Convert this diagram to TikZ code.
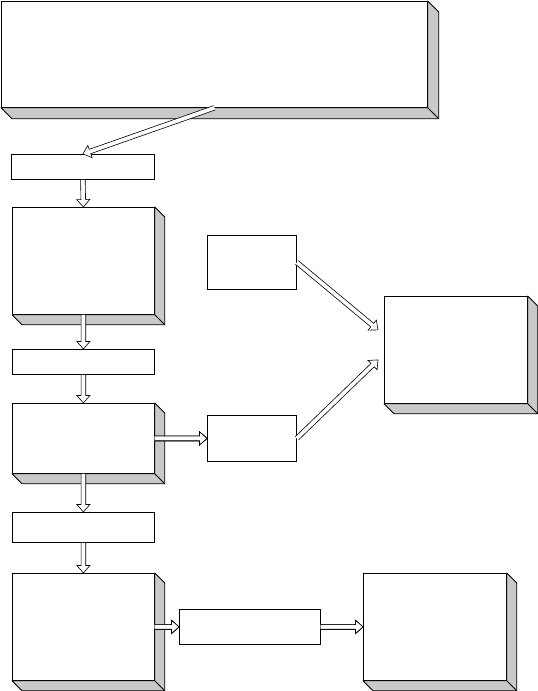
\documentclass[tikz,border=0pt]{standalone}
\usetikzlibrary{calc,positioning}
\tikzset{
  stage/.style={
    draw,
    fill=white,
    line width=0.8pt,
    inner sep=0pt,
    anchor=north west
  },
  side/.style={
    draw,
    fill=gray!42,
    line width=0.8pt,
    line join=round
  },
  flowline/.style={
    draw,
    fill=white,
    line width=0.6pt,
    line join=miter
  },
}
% hollow block arrow from #1 to #2
\newcommand\flowarrow[2]{%
  \coordinate (fb) at ($(#2)!7.5pt!(#1)$);
  \draw[flowline] ($(#1)!2.3pt!90:(#2)$) -- ($(fb)!2.3pt!90:(#2)$) -- ($(fb)!6.5pt!90:(#2)$)
    -- (#2) -- ($(fb)!6.5pt!-90:(#2)$) -- ($(fb)!2.3pt!-90:(#2)$) -- ($(#1)!2.3pt!-90:(#2)$);
}

\begin{document}
\begin{tikzpicture}[x=1pt,y=-1pt]
  \useasboundingbox (0,0) rectangle (538,691);
  % left column
  \node[stage,minimum width=426pt,minimum height=106pt] (goal) at (1,1) {};
  \node[stage,minimum width=143pt,minimum height=25pt] (n1) at (11,154) {};
  \node[stage,minimum width=142pt,minimum height=107pt] (n2) at (12,207) {};
  \node[stage,minimum width=142pt,minimum height=25pt] (n3) at (12,349) {};
  \node[stage,minimum width=142pt,minimum height=70pt] (n4) at (12,403) {};
  \node[stage,minimum width=142pt,minimum height=30pt] (n5) at (12,512) {};
  \node[stage,minimum width=142pt,minimum height=107pt] (n6) at (12,573) {};
  % right part
  \node[stage,minimum width=89pt,minimum height=54pt] (d1) at (207,235) {};
  \node[stage,minimum width=89pt,minimum height=46pt] (d2) at (207,415) {};
  \node[stage,minimum width=143pt,minimum height=107pt] (res) at (384,296) {};
  \node[stage,minimum width=141pt,minimum height=35pt] (m) at (179,609) {};
  \node[stage,minimum width=143pt,minimum height=107pt] (out) at (363,573) {};
  % shaded sides
  \foreach \b/\d in {goal/11,n2/10,n4/10,n6/10,res/10,out/10}{
    \draw[side] (\b.south west) -- ++(\d,\d) -| ($(\b.north east)+(\d,\d)$) -- (\b.north east) -- (\b.south east) -- cycle;
    \draw[line width=0.8pt] (\b.south east) -- ++(\d,\d);
  }
  % arrows
  \flowarrow{goal.south}{n1.north}
  \foreach \a/\b in {n1/n2,n2/n3,n3/n4,n4/n5,n5/n6}
    \flowarrow{\a.south}{\b.north}
  \flowarrow{n4.east}{d2.west}
  \flowarrow{n6.east}{m.west}
  \flowarrow{m.east}{out.west}
  \coordinate (in1) at ($(res.west)+(-6,-20)$);
  \coordinate (in2) at ($(res.west)+(-6,10)$);
  \flowarrow{d1.east}{in1}
  \flowarrow{d2.east}{in2}
\end{tikzpicture}
\end{document}
